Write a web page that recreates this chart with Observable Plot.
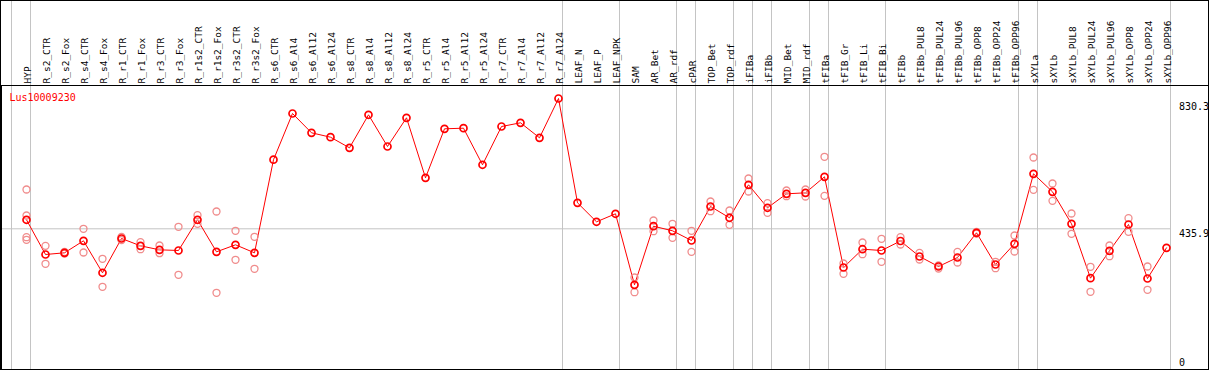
<!DOCTYPE html>
<html><head><meta charset="utf-8">
<script src="https://cdn.jsdelivr.net/npm/d3@7"></script>
<script src="https://cdn.jsdelivr.net/npm/@observablehq/plot@0.6"></script>
<style>
body{margin:0;background:#fff}
#chart svg{display:block;outline:1px solid #000;outline-offset:-1px}
</style>
</head><body><div id="chart"></div>
<script>
const geneId = "Lus10009230";
const categories = ["HYP","R_s2_CTR","R_s2_Fox","R_s4_CTR","R_s4_Fox","R_r1_CTR","R_r1_Fox","R_r3_CTR","R_r3_Fox","R_r1s2_CTR","R_r1s2_Fox","R_r3s2_CTR","R_r3s2_Fox","R_s6_CTR","R_s6_Al4","R_s6_Al12","R_s6_Al24","R_s8_CTR","R_s8_Al4","R_s8_Al12","R_s8_Al24","R_r5_CTR","R_r5_Al4","R_r5_Al12","R_r5_Al24","R_r7_CTR","R_r7_Al4","R_r7_Al12","R_r7_Al24","LEAF_N","LEAF_P","LEAF_NPK","SAM","AR_Bet","AR_rdf","cPAR","TOP_Bet","TOP_rdf","iFIBa","iFIBb","MID_Bet","MID_rdf","tFIBa","tFIB_Gr","tFIB_Li","tFIB_Bi","tFIBb","tFIBb_PUL8","tFIBb_PUL24","tFIBb_PUL96","tFIBb_OPP8","tFIBb_OPP24","tFIBb_OPP96","sXYLa","sXYLb","sXYLb_PUL8","sXYLb_PUL24","sXYLb_PUL96","sXYLb_OPP8","sXYLb_OPP24","sXYLb_OPP96"];
const means = [463.8,356.3,361.5,398.7,299.6,405.9,383.2,370.8,368.7,463.8,364.6,386.3,361.5,650.0,793.1,733.3,719.7,686.8,789.1,690.9,779.8,593.9,745.7,747.6,634.2,752.8,764.3,717.8,839.6,516.4,457.6,482.4,262.4,444.0,429.7,399.7,505.0,470.0,572.2,501.0,544.3,547.4,597.0,316.0,372.7,368.7,398.1,350.1,319.1,347.0,423.5,325.3,389.4,606.3,550.5,451.4,282.9,367.7,449.2,281.9,377.0];
const replicates = [
  [557.6,477.1,409.9,401.8],[383.2,327.5],[364,359],[435.9,362.5],[343.0,256.2],[410.5,401.2],[394.4,372.7],[384.2,360.3],[442.1,293.4],[478.0,451.4],[489.5,237.6],[429.7,339.9],[411.1,312.0],
  [],[],[],[],[],[],[],[],[],[],[],[],[],[],[],[],[],[],[],
  [285.0,239.5],[461.6,428.5],[451.4,408.0],[429.7,364.6],[520.5,490.4],[492.6,448.3],[591.7,551.5],[515.2,485.5],[554.6,536.9],[557.7,536.0],[659.0,538.1],[328.4,296.5],[393.5,357.2],[404.9,333.7],[409.9,387.3],[361.5,340.8],[322.2,312.9],[364.6,331.5],[426.0,421.3],[333.7,313.8],[415.1,365.6],[656.8,556.7],[576.2,522.6],[483.3,420.4],[318.2,240.7],[384.2,351.0],[468.7,426.6],[319.1,246.9],[]
];
const groupEnds = ["HYP","R_r7_Al24","LEAF_NPK","AR_rdf","cPAR","TOP_rdf","iFIBa","iFIBb","MID_rdf","tFIBa","tFIB_Bi","tFIBb_OPP96","sXYLa","sXYLb_OPP96"];
const yMax = 830.3;
const yMid = 435.9;
const yTickLabels = ["0","435.9","830.3"];

const meanTable = categories.map((c,i)=>({cat:c, value:means[i]}));
const repTable = categories.flatMap((c,i)=>replicates[i].map(v=>({cat:c, value:v})));

const grid = "#c4c4c4";
const chart = Plot.plot({
  width:1209, height:370,
  marginTop:85, marginLeft:1, marginRight:1, marginBottom:1,
  style:{fontFamily:"'DejaVu Sans Mono', monospace", background:"#fff"},
  x:{type:"point", domain:categories, range:[26,1166], padding:0, axis:null},
  y:{domain:[0,yMax], range:[369,101], axis:null},
  marks:[
    Plot.ruleX(groupEnds, {x:d=>d, dx:4, stroke:grid, insetTop:-85}),
    Plot.ruleX([categories[0]], {x:d=>d, dx:-15, stroke:grid, insetTop:-85}),
    Plot.ruleY([yMid], {y:d=>d, stroke:grid, insetRight:38}),
    Plot.frame({stroke:"#000"}),
    Plot.line(meanTable, {x:"cat", y:"value", stroke:"#f00", strokeWidth:1}),
    Plot.dot(repTable, {x:"cat", y:"value", r:3.5, stroke:"#f08c8c", strokeWidth:1.3}),
    Plot.dot(meanTable, {x:"cat", y:"value", r:3.5, stroke:"#f00", strokeWidth:1.7}),
    Plot.text(categories, {x:d=>d, frameAnchor:"top", rotate:-90, textAnchor:"start", dx:-2.5, dy:-2, fontSize:9.5, fill:"#000"}),
    Plot.text([geneId], {frameAnchor:"top-left", dx:8, dy:8, lineAnchor:"top", textAnchor:"start", fontSize:10, fill:"#f00"}),
    Plot.text([yMid, yMax], {y:d=>d, text:(d,i)=>yTickLabels[i+1], frameAnchor:"right", textAnchor:"start", lineAnchor:"top", dx:-29.5, dy:1.5, fontSize:10, fill:"#000"}),
    Plot.text([0], {y:d=>d, text:()=>yTickLabels[0], frameAnchor:"right", textAnchor:"start", lineAnchor:"bottom", dx:-29.5, dy:-3.5, fontSize:10, fill:"#000"})
  ]
});
document.getElementById("chart").appendChild(chart);
</script></body></html>
